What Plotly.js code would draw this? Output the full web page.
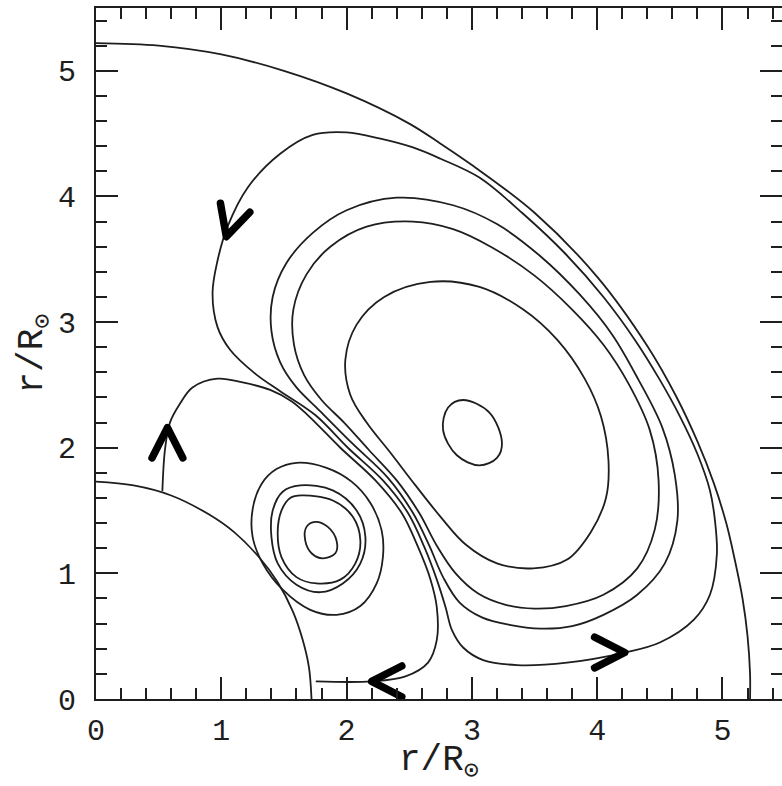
<!DOCTYPE html>
<html>
<head>
<meta charset="utf-8">
<script src="https://cdn.plot.ly/plotly-3.0.1.min.js"></script>
<style>
  html, body { margin: 0; padding: 0; background: #fff; }
  #chart { width: 782px; height: 786px; }
  path.js-line { stroke-linecap: round !important; stroke-linejoin: round !important; }
</style>
</head>
<body>
<div id="chart"></div>
<script>
// Outer boundary and stellar surface (r/R_sun)
const outerX = [0, 0.5, 1.0, 1.5, 2.0, 2.5, 2.75, 3.0, 3.5, 4.0, 4.40, 4.63, 4.80, 4.93, 5.03, 5.10, 5.16, 5.20, 5.22, 5.22];
const outerY = [5.22, 5.2, 5.13, 5.0, 4.82, 4.58, 4.42, 4.25, 3.87, 3.36, 2.81, 2.41, 2.05, 1.72, 1.40, 1.10, 0.80, 0.50, 0.20, 0];
const starX = [0, 0.3, 0.6, 0.9, 1.1, 1.3, 1.45, 1.57, 1.65, 1.70, 1.72];
const starY = [1.73, 1.70, 1.62, 1.47, 1.33, 1.13, 0.93, 0.70, 0.47, 0.25, 0];

// Open streamline starting and ending on the star
const fX = [0.53, 0.55, 0.59, 0.67, 0.77, 0.97, 1.17, 1.39, 1.56, 1.70, 1.95, 2.23, 2.44, 2.57, 2.67, 2.72, 2.72, 2.65, 2.47, 2.20, 1.76];
const fY = [1.66, 1.98, 2.20, 2.35, 2.48, 2.55, 2.52, 2.46, 2.37, 2.25, 2.00, 1.74, 1.48, 1.21, 0.95, 0.73, 0.47, 0.29, 0.18, 0.14, 0.14];

// Large cell streamlines (closed)
const cX = [2.53, 2.27, 2.00, 1.73, 1.47, 1.21, 1.05, 0.97, 0.93, 0.97, 1.07, 1.27, 1.47, 1.75, 2.01, 2.29, 2.49, 2.62, 2.72, 2.79, 2.84, 2.93, 3.09, 3.36, 3.76, 4.22, 4.50, 4.77, 4.90, 4.955, 4.94, 4.90, 4.80, 4.66, 4.50, 4.30, 4.05, 3.75, 3.40, 3.06, 2.75, 2.53];
const cY = [4.39, 4.46, 4.51, 4.49, 4.34, 4.07, 3.76, 3.49, 3.23, 2.96, 2.78, 2.59, 2.45, 2.26, 2.00, 1.74, 1.48, 1.21, 0.95, 0.73, 0.55, 0.41, 0.31, 0.27, 0.29, 0.37, 0.45, 0.63, 0.83, 1.15, 1.42, 1.66, 1.95, 2.25, 2.54, 2.86, 3.20, 3.54, 3.87, 4.15, 4.30, 4.39];
const d1X = [2.40, 2.00, 1.73, 1.52, 1.41, 1.40, 1.47, 1.60, 1.78, 2.05, 2.33, 2.53, 2.66, 2.77, 2.90, 3.08, 3.30, 3.55, 3.80, 4.05, 4.32, 4.54, 4.64, 4.62, 4.52, 4.33, 4.12, 3.86, 3.54, 3.20, 2.85, 2.40];
const d1Y = [3.99, 3.89, 3.71, 3.47, 3.20, 2.93, 2.68, 2.48, 2.30, 2.03, 1.76, 1.48, 1.22, 0.97, 0.77, 0.65, 0.59, 0.56, 0.58, 0.67, 0.83, 1.08, 1.42, 1.78, 2.16, 2.54, 2.90, 3.22, 3.53, 3.78, 3.93, 3.99];
const d2X = [2.53, 2.16, 1.87, 1.68, 1.575, 1.58, 1.66, 1.80, 1.98, 2.18, 2.40, 2.58, 2.72, 2.87, 3.05, 3.27, 3.50, 3.75, 4.05, 4.32, 4.46, 4.49, 4.42, 4.25, 4.05, 3.80, 3.50, 3.15, 2.85, 2.53];
const d2Y = [3.80, 3.76, 3.60, 3.38, 3.10, 2.82, 2.58, 2.38, 2.20, 1.98, 1.74, 1.48, 1.22, 1.00, 0.84, 0.75, 0.72, 0.74, 0.83, 1.04, 1.35, 1.74, 2.14, 2.51, 2.82, 3.10, 3.37, 3.60, 3.74, 3.80];
const d3X = [2.67, 2.30, 2.08, 1.99, 2.03, 2.16, 2.35, 2.55, 2.75, 2.95, 3.20, 3.49, 3.76, 3.95, 4.07, 4.09, 4.03, 3.90, 3.68, 3.41, 3.06, 2.67];
const d3Y = [3.32, 3.20, 2.98, 2.70, 2.42, 2.20, 1.96, 1.70, 1.45, 1.23, 1.08, 1.04, 1.11, 1.33, 1.60, 1.90, 2.25, 2.55, 2.86, 3.10, 3.28, 3.32];
const eX = [2.93, 3.14, 3.24, 3.20, 3.06, 2.88, 2.77, 2.81, 2.93];
const eY = [2.38, 2.28, 2.04, 1.92, 1.86, 1.94, 2.14, 2.32, 2.38];

// Small cell streamlines (closed)
const g3X = [1.60, 1.84, 2.04, 2.19, 2.28, 2.29, 2.24, 2.11, 1.92, 1.71, 1.49, 1.33, 1.25, 1.25, 1.32, 1.44, 1.60];
const g3Y = [1.88, 1.84, 1.73, 1.56, 1.34, 1.13, 0.92, 0.74, 0.67, 0.71, 0.87, 1.08, 1.29, 1.51, 1.71, 1.83, 1.88];
const g2X = [1.63, 1.89, 2.08, 2.15, 2.11, 1.97, 1.79, 1.60, 1.45, 1.40, 1.41, 1.49, 1.63];
const g2Y = [1.70, 1.66, 1.50, 1.29, 1.08, 0.92, 0.85, 0.91, 1.08, 1.29, 1.50, 1.65, 1.70];
const g1X = [1.64, 1.89, 2.05, 2.11, 2.07, 1.95, 1.76, 1.60, 1.48, 1.45, 1.48, 1.55, 1.64];
const g1Y = [1.62, 1.58, 1.45, 1.26, 1.08, 0.95, 0.92, 0.97, 1.13, 1.32, 1.50, 1.60, 1.62];
const g0X = [1.75, 1.85, 1.92, 1.91, 1.81, 1.72, 1.67, 1.68, 1.75];
const g0Y = [1.41, 1.37, 1.26, 1.16, 1.12, 1.16, 1.26, 1.37, 1.41];

// Flow-direction arrows: tip position and pointing direction (degrees)
const arrowX = [1.04, 0.57, 2.20, 4.22];
const arrowY = [3.68, 2.16, 0.14, 0.37];
const arrowDir = [253, 90, 180, 0];

// Axis ticks
const tickVals = [0, 1, 2, 3, 4, 5];
const tickText = ['0', '1', '2', '3', '4', '5'];

const ink = '#1e1e1e';
const curveStyle = { color: ink, width: 1.8, shape: 'spline', smoothing: 1 };
function curve(x, y) {
  return { x: x, y: y, type: 'scatter', mode: 'lines', line: curveStyle, hoverinfo: 'skip', showlegend: false };
}
const traces = [
  curve(outerX, outerY), curve(starX, starY), curve(fX, fY),
  curve(cX, cY), curve(d1X, d1Y), curve(d2X, d2Y), curve(d3X, d3Y), curve(eX, eY),
  curve(g3X, g3Y), curve(g2X, g2Y), curve(g1X, g1Y), curve(g0X, g0Y)
];
const armLen = 0.27, half = 27;
for (let i = 0; i < arrowX.length; i++) {
  const back = arrowDir[i] + 180;
  const a1 = (back - half) * Math.PI / 180, a2 = (back + half) * Math.PI / 180;
  traces.push({
    x: [arrowX[i] + armLen * Math.cos(a1), arrowX[i], arrowX[i] + armLen * Math.cos(a2)],
    y: [arrowY[i] + armLen * Math.sin(a1), arrowY[i], arrowY[i] + armLen * Math.sin(a2)],
    type: 'scatter', mode: 'lines', line: { color: '#000', width: 7.5 },
    hoverinfo: 'skip', showlegend: false
  });
}

const tickFont = { family: 'Liberation Mono, DejaVu Sans Mono, monospace', size: 30, color: ink };
const titleFont = { family: 'Liberation Mono, DejaVu Sans Mono, monospace', size: 36, color: ink };
function axis(range, standoff) {
  return {
    range: range, showgrid: false, zeroline: false,
    showline: true, linecolor: ink, linewidth: 2, mirror: 'ticks',
    ticks: 'inside', ticklen: 22, tickwidth: 2, tickcolor: ink,
    tickvals: tickVals, ticktext: tickText, tickfont: tickFont,
    minor: { dtick: 0.2, tick0: 0, ticks: 'inside', ticklen: 11, tickwidth: 2, tickcolor: ink, showgrid: false },
    ticklabelstandoff: standoff, fixedrange: true
  };
}
const xaxis = axis([0, 5.475], 3);
xaxis.title = { text: 'r/R<sub>⊙</sub>', font: titleFont, standoff: 11 };
const yaxis = axis([0, 5.5], 12);
yaxis.title = { text: 'r/R<sub>⊙</sub>', font: titleFont, standoff: 2 };

const layout = {
  width: 782, height: 786,
  margin: { l: 96, r: 0, t: 8, b: 87 },
  paper_bgcolor: '#fff', plot_bgcolor: '#fff',
  xaxis: xaxis, yaxis: yaxis, showlegend: false
};
Plotly.newPlot('chart', traces, layout, { displayModeBar: false, staticPlot: true });
</script>
</body>
</html>
